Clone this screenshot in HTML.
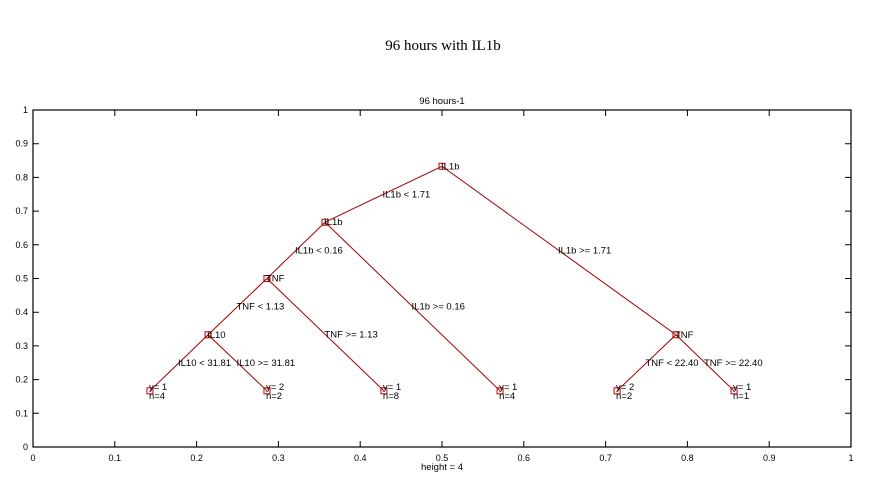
<!DOCTYPE html>
<html><head><meta charset="utf-8"><style>
body{margin:0;background:#fff;}
svg{display:block;font-family:"Liberation Sans",Arial,sans-serif;}
</style></head><body>
<svg id="chart" width="887" height="488">
<text x="443" y="50" text-anchor="middle" font-family="Liberation Serif,serif" font-size="15">96 hours with IL1b</text>
<text x="442" y="104" text-anchor="middle" font-size="9.5">96 hours-1</text>
<text x="442" y="470" text-anchor="middle" font-size="9.5">height = 4</text>
<rect x="33" y="110" width="818" height="337" fill="none" stroke="#000" stroke-width="1.2"/>
<g id="ticks"></g><g id="edges"></g><g id="nodes"></g>
</svg>
<script>
const xTicks=[0,0.1,0.2,0.3,0.4,0.5,0.6,0.7,0.8,0.9,1];
const yTicks=[0,0.1,0.2,0.3,0.4,0.5,0.6,0.7,0.8,0.9,1];
const nodeX=[0.5,0.357,0.786,0.286,0.571,0.714,0.857,0.214,0.429,0.143,0.286];
const nodeY=[0.833,0.667,0.333,0.5,0.1667,0.1667,0.1667,0.333,0.1667,0.1667,0.1667];
const nodeLabels=["IL1b","IL1b","TNF","TNF","","","","IL10","","",""];
const leafY=["","","","","y= 1","y= 2","y= 1","","y= 1","y= 1","y= 2"];
const leafN=["","","","","n=4","n=2","n=1","","n=8","n=4","n=2"];
const parents=[-1,0,0,1,1,2,2,3,3,7,7];
const edgeLabels=["","IL1b < 1.71","IL1b >= 1.71","IL1b < 0.16","IL1b >= 0.16","TNF < 22.40","TNF >= 22.40","TNF < 1.13","TNF >= 1.13","IL10 < 31.81","IL10 >= 31.81"];
const NS="http://www.w3.org/2000/svg";
const X=v=>33+v*818, Y=v=>447-v*337;
function mk(tag,attrs,parent,txt){const e=document.createElementNS(NS,tag);for(const k in attrs)e.setAttribute(k,attrs[k]);if(txt!==undefined)e.textContent=txt;parent.appendChild(e);return e;}
const tg=document.getElementById('ticks');
xTicks.forEach(t=>{
 const l=mk('path',{d:`M${X(t)},447v-6M${X(t)},110v6`,stroke:'#000'},tg);
 
 
 const s=mk('text',{x:X(t),y:461,'text-anchor':'middle','font-size':9},tg,String(t));
 
 
});
yTicks.forEach(t=>{
 const l=mk('path',{d:`M33,${Y(t)}h6M851,${Y(t)}h-6`,stroke:'#000'},tg);
 
 
 const s=mk('text',{x:28,y:Y(t)+3,'text-anchor':'end','font-size':9},tg,String(t));
 
 
});
const eg=document.getElementById('edges'),ng=document.getElementById('nodes');
parents.forEach((p,i)=>{
 if(p<0)return;
 const l=mk('line',{x1:X(nodeX[p]),y1:Y(nodeY[p]),x2:X(nodeX[i]),y2:Y(nodeY[i]),stroke:'#a00000','stroke-width':1},eg);
 
 
 const mx=(nodeX[p]+nodeX[i])/2,my=(nodeY[p]+nodeY[i])/2;
 const t=mk('text',{x:X(mx)-1,y:Y(my)+3,'font-size':9.5},eg,edgeLabels[i]);
 
 
});
nodeX.forEach((x,i)=>{
 const c=mk('rect',{x:X(x)-3,y:Y(nodeY[i])-3,width:6,height:6,fill:'none',stroke:'#c00000','stroke-width':1},ng);
 
 
 if(nodeLabels[i]){
  const t=mk('text',{x:X(x)-1,y:Y(nodeY[i])+3,'font-size':9.5},ng,nodeLabels[i]);
  
  
 }
 if(leafY[i]){
  const a=mk('text',{x:X(x)-1,y:Y(nodeY[i])-1,'font-size':9.5},ng,leafY[i]);
  
  
  const b=mk('text',{x:X(x)-1,y:Y(nodeY[i])+8,'font-size':9.5},ng,leafN[i]);
  
  
 }
});
</script>
</body></html>
